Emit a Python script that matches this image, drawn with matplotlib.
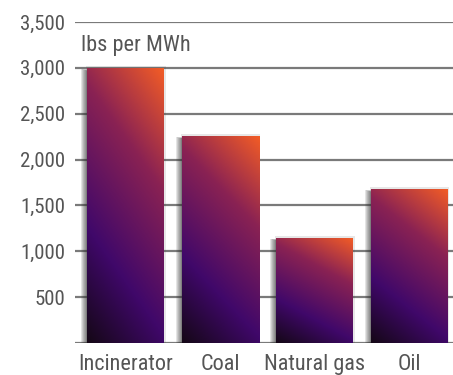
import numpy as np
import matplotlib
matplotlib.use("Agg")
import matplotlib.pyplot as plt
from matplotlib.colors import LinearSegmentedColormap
from matplotlib.patches import Rectangle

categories = ["Incinerator", "Coal", "Natural gas", "Oil"]
values = [3000, 2260, 1150, 1680]
yticks = [500, 1000, 1500, 2000, 2500, 3000, 3500]
ytick_labels = ["500", "1,000", "1,500", "2,000", "2,500", "3,000", "3,500"]
unit_label = "lbs per MWh"

plt.rcParams['font.family'] = ['Roboto Condensed', 'DejaVu Sans']
text_color = "#555555"

fig = plt.figure(figsize=(4.53, 3.75), dpi=100)
ax = fig.add_axes([75/453, 32/375, 378/453, 321/375])

cmap = LinearSegmentedColormap.from_list("g", [
    (0.0, "#150717"), (0.3, "#40086a"), (0.68, "#8a2253"), (1.0, "#f25c26")])

width = 0.814
x = np.arange(len(categories))
px_x = 1 / 94.6
px_y = 3500 / 321
ny, nx = 120, 60
vv, uu = np.mgrid[0:1:ny*1j, 0:1:nx*1j]
tt = np.clip(0.72 * vv + 0.28 * uu, 0, 1)

for xi, val in zip(x, values):
    left = xi - width/2
    # soft shadow on the left side
    for k in range(1, 7):
        ax.add_patch(Rectangle((left - k * px_x, 0), k * px_x + 2 * px_x, val - (3 - k * 0.3) * px_y,
                               facecolor="#303030", edgecolor="none", alpha=0.13, zorder=2))
    # faint halo around
    ax.add_patch(Rectangle((left - px_x, 0), width + 2.5 * px_x, val + 1.5 * px_y,
                           facecolor="#404040", edgecolor="none", alpha=0.12, zorder=2))
    rect = Rectangle((left, 0), width, val, facecolor="none", edgecolor="none", zorder=3)
    ax.add_patch(rect)
    im = ax.imshow(tt, cmap=cmap, origin="lower", aspect="auto",
                   extent=(left, left + width, 0, val), zorder=3,
                   interpolation="bilinear", vmin=0, vmax=1)
    im.set_clip_path(rect)

for yv in [0] + yticks:
    ax.axhline(yv, color="#7a7a7a", lw=1.6, zorder=1)

ax.set_xlim(-0.534, 3.462)
ax.set_ylim(0, 3500)
ax.set_yticks(yticks)
ax.set_yticklabels(ytick_labels, fontsize=15, color=text_color)
ax.set_xticks(x)
ax.set_xticklabels(categories, fontsize=16, color=text_color)
ax.tick_params(axis="y", length=0, pad=7)
ax.tick_params(axis="x", length=0, pad=8)
for s in ax.spines.values():
    s.set_visible(False)

fig.text(81/453, 1 - 45/375, unit_label, fontsize=16, color=text_color, va="center", ha="left")

fig.savefig("out.png", dpi=100)
